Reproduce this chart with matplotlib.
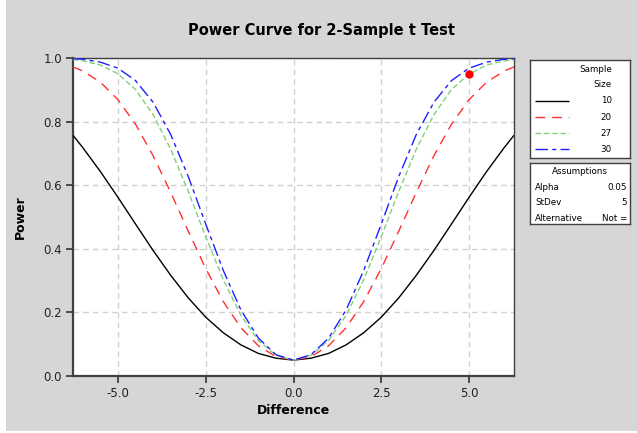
import matplotlib
matplotlib.use("Agg")
import matplotlib.pyplot as plt
from matplotlib.lines import Line2D
from matplotlib.patches import Rectangle

plt.rcParams['font.family'] = ['DejaVu Sans']

# values
difference = [-6.28, -6.0, -5.5, -5.0, -4.5, -4.0, -3.5, -3.0, -2.5, -2.0, -1.5, -1.0, -0.5,
              0.0, 0.5, 1.0, 1.5, 2.0, 2.5, 3.0, 3.5, 4.0, 4.5, 5.0, 5.5, 6.0, 6.28]
power_n10 = [0.757, 0.718, 0.643, 0.562, 0.478, 0.395, 0.317, 0.246, 0.185, 0.136, 0.098, 0.071, 0.056,
             0.050, 0.056, 0.071, 0.098, 0.136, 0.185, 0.246, 0.317, 0.395, 0.478, 0.562, 0.643, 0.718, 0.757]
power_n20 = [0.972, 0.959, 0.924, 0.869, 0.792, 0.693, 0.578, 0.456, 0.338, 0.234, 0.152, 0.095, 0.061,
             0.050, 0.061, 0.095, 0.152, 0.234, 0.338, 0.456, 0.578, 0.693, 0.792, 0.869, 0.924, 0.959, 0.972]
power_n27 = [0.995, 0.991, 0.978, 0.950, 0.901, 0.822, 0.714, 0.581, 0.438, 0.303, 0.191, 0.112, 0.065,
             0.050, 0.065, 0.112, 0.191, 0.303, 0.438, 0.581, 0.714, 0.822, 0.901, 0.950, 0.978, 0.991, 0.995]
power_n30 = [0.998, 0.996, 0.987, 0.968, 0.929, 0.861, 0.760, 0.628, 0.478, 0.332, 0.208, 0.119, 0.067,
             0.050, 0.067, 0.119, 0.208, 0.332, 0.478, 0.628, 0.760, 0.861, 0.929, 0.968, 0.987, 0.996, 0.998]
point_diff = [5.0]
point_power = [0.95]

sample_sizes = ["10", "20", "27", "30"]
assumptions = [("Alpha", "0.05"), ("StDev", "5"), ("Alternative", "Not =")]

fig = plt.figure(figsize=(6.37, 4.33), dpi=100, facecolor="white")
fig.patches.append(Rectangle((6 / 637, 0.005), 1, 1, transform=fig.transFigure,
                             facecolor="#d6d6d6", edgecolor="none", zorder=-10))

ax = fig.add_axes([73 / 637, 1 - 376 / 433, 441 / 637, 318 / 433])
ax.set_facecolor("white")

styles = [
    ("black", (0, ())),
    ("#ff3030", (0, (7, 5))),
    ("#80d080", (0, (4, 2))),
    ("#2020ff", (0, (9, 3, 3, 3))),
]
series = [power_n10, power_n20, power_n27, power_n30]
for vals, (col, ls) in zip(series, styles):
    ax.plot(difference, vals, color=col, linestyle=ls, linewidth=1.0, zorder=3)

ax.plot(point_diff, point_power, "o", color="red", markersize=5, zorder=4)

ax.set_xlim(-6.28, 6.28)
ax.set_ylim(0, 1.0)
ax.set_xticks([-5.0, -2.5, 0.0, 2.5, 5.0])
ax.set_xticklabels(["-5.0", "-2.5", "0.0", "2.5", "5.0"])
ax.set_yticks([0.0, 0.2, 0.4, 0.6, 0.8, 1.0])
ax.set_yticklabels(["0.0", "0.2", "0.4", "0.6", "0.8", "1.0"])
ax.grid(True, color="#d0d0d0", linestyle=(0, (4, 3)), linewidth=1.0, zorder=0)
ax.tick_params(axis="both", direction="out", length=5, width=1.3, color="#404040",
               labelsize=8.5, labelcolor="#202020", pad=3)
for side in ["left", "bottom"]:
    ax.spines[side].set_linewidth(1.6)
    ax.spines[side].set_color("#404040")
for side in ["top", "right"]:
    ax.spines[side].set_linewidth(1.0)
    ax.spines[side].set_color("#404040")

ax.set_xlabel("Difference", fontsize=9, fontweight="bold", labelpad=3)
ax.set_ylabel("Power", fontsize=9, fontweight="bold", labelpad=12)
fig.text(322 / 637, 1 - 30 / 433, "Power Curve for 2-Sample t Test", ha="center", va="center",
         fontsize=10.5, fontweight="bold")

# legend box: sample size
lg = fig.add_axes([530 / 637, 1 - 158 / 433, 100 / 637, 98 / 433])
lg.set_xticks([])
lg.set_yticks([])
lg.set_xlim(0, 100)
lg.set_ylim(98, 0)
for s in lg.spines.values():
    s.set_linewidth(1.0)
    s.set_color("#404040")
lg.text(82, 10, "Sample", ha="right", va="center", fontsize=6.3)
lg.text(82, 25, "Size", ha="right", va="center", fontsize=6.3)
for i, (lab, (col, ls)) in enumerate(zip(sample_sizes, styles)):
    y = 41 + i * 16
    lg.add_line(Line2D([5, 39], [y, y], color=col, linestyle=ls, linewidth=1.0))
    lg.text(82, y, lab, ha="right", va="center", fontsize=6.3)

# assumptions box
ab = fig.add_axes([530 / 637, 1 - 224 / 433, 100 / 637, 61 / 433])
ab.set_xticks([])
ab.set_yticks([])
ab.set_xlim(0, 100)
ab.set_ylim(61, 0)
for s in ab.spines.values():
    s.set_linewidth(1.0)
    s.set_color("#404040")
ab.text(50, 9, "Assumptions", ha="center", va="center", fontsize=6.3)
for i, (k, v) in enumerate(assumptions):
    y = 24 + i * 15.5
    ab.text(5, y, k, ha="left", va="center", fontsize=6.3)
    ab.text(97, y, v, ha="right", va="center", fontsize=6.3)

fig.savefig("out.png", dpi=100, facecolor=fig.get_facecolor())
